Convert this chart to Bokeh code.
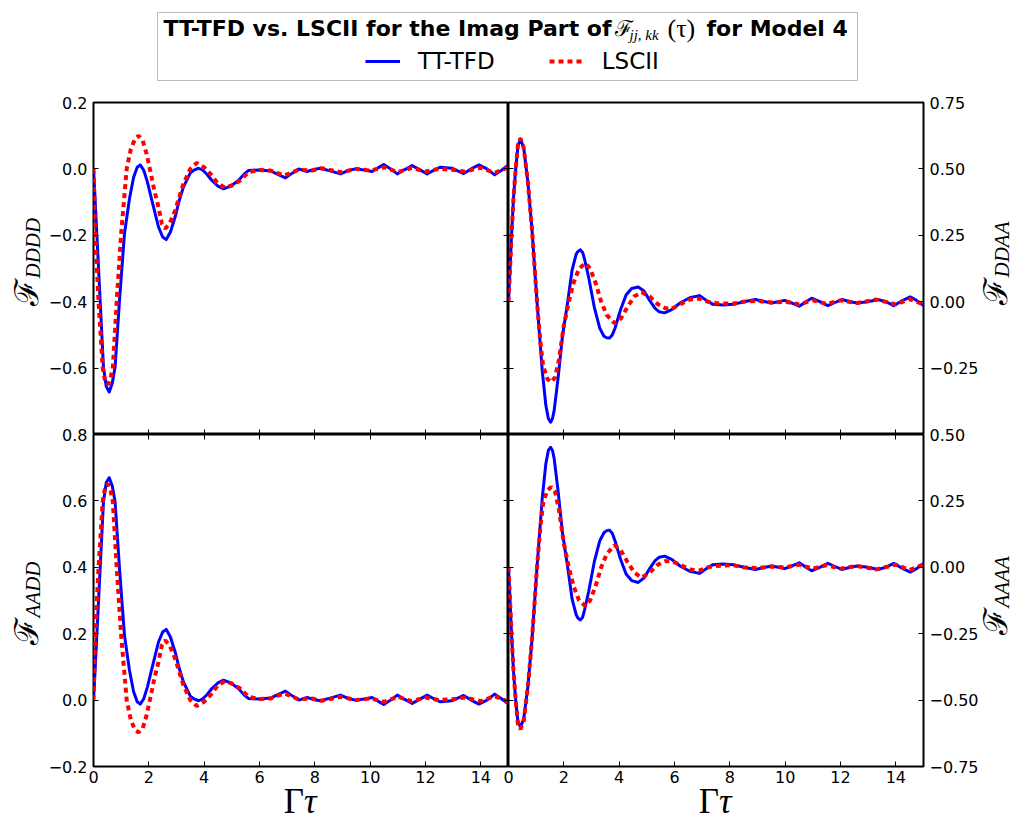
import math
from bokeh.plotting import figure
from bokeh.models import (Range1d, LinearAxis, FixedTicker, CustomJSTickFormatter,
                          Legend, LegendItem, BoxAnnotation, Spacer)
from bokeh.layouts import column, row
from bokeh.core.properties import value
from bokeh.embed import file_html
from bokeh.resources import INLINE

# ---------------- data ----------------
X_TICKS = [0, 2, 4, 6, 8, 10, 12, 14]
X_LABELS = ["0", "2", "4", "6", "8", "10", "12", "14"]

DDDD_RANGE = (-0.8, 0.2)
DDDD_TICKS = [0.2, 0.0, -0.2, -0.4, -0.6]
DDDD_LABELS = ["0.2", "0.0", "\u22120.2", "\u22120.4", "\u22120.6"]
AADD_RANGE = (-0.2, 0.8)
AADD_TICKS = [0.8, 0.6, 0.4, 0.2, 0.0, -0.2]
AADD_LABELS = ["0.8", "0.6", "0.4", "0.2", "0.0", "\u22120.2"]
DDAA_RANGE = (-0.5, 0.75)
DDAA_TICKS = [0.75, 0.5, 0.25, 0.0, -0.25]
DDAA_LABELS = ["0.75", "0.50", "0.25", "0.00", "\u22120.25"]
AAAA_RANGE = (-0.75, 0.5)
AAAA_TICKS = [0.5, 0.25, 0.0, -0.25, -0.5, -0.75]
AAAA_LABELS = ["0.50", "0.25", "0.00", "\u22120.25", "\u22120.50", "\u22120.75"]

# tau samples for the F_DDDD / F_AADD TT-TFD curves
TAU_A_TT = [0.0, 0.04, 0.12, 0.24, 0.36, 0.46, 0.57, 0.68, 0.78, 0.94,
            1.12, 1.3, 1.45, 1.58, 1.69, 1.82, 1.95, 2.11, 2.35, 2.5,
            2.63, 2.78, 2.95, 3.1, 3.25, 3.5, 3.65, 3.8, 3.95, 4.1,
            4.28, 4.5, 4.7, 4.95, 5.24, 5.45, 5.6, 6.0, 6.4, 6.7,
            6.94, 7.2, 7.42, 7.72, 7.95, 8.2, 8.55, 8.93, 9.2, 9.47,
            9.8, 10.07, 10.28, 10.49, 10.74, 10.98, 11.25, 11.52, 11.8, 12.06,
            12.3, 12.54, 12.95, 13.38, 13.65, 13.93, 14.22, 14.5, 14.75, 15.0]
DDDD_TT = [0.0, -0.06, -0.195, -0.396, -0.597, -0.655, -0.672, -0.645, -0.597, -0.396,
           -0.195, -0.09, -0.025, 0.005, 0.012, -0.005, -0.04, -0.095, -0.175, -0.205,
           -0.213, -0.19, -0.145, -0.095, -0.055, -0.012, -0.003, 0.002, -0.004, -0.016,
           -0.035, -0.052, -0.06, -0.052, -0.035, -0.015, -0.005, -0.003, -0.006, -0.018,
           -0.027, -0.012, 0.0, -0.008, -0.002, 0.002, -0.006, -0.015, -0.005, 0.0,
           -0.003, -0.008, 0.003, 0.013, 0.0, -0.015, -0.002, 0.01, -0.003, -0.015,
           -0.004, 0.005, 0.002, -0.014, 0.0, 0.012, 0.0, -0.018, -0.004, 0.012]
AADD_TT = [0.0, 0.06, 0.195, 0.396, 0.597, 0.655, 0.67, 0.645, 0.597, 0.396,
           0.195, 0.09, 0.025, -0.005, -0.012, 0.005, 0.04, 0.095, 0.175, 0.205,
           0.213, 0.19, 0.145, 0.095, 0.055, 0.012, 0.003, -0.002, 0.004, 0.016,
           0.035, 0.052, 0.06, 0.052, 0.035, 0.015, 0.005, 0.003, 0.006, 0.018,
           0.027, 0.012, 0.0, 0.008, 0.002, -0.002, 0.006, 0.015, 0.005, 0.0,
           0.003, 0.008, -0.003, -0.013, 0.0, 0.015, 0.002, -0.01, 0.003, 0.015,
           0.004, -0.005, -0.002, 0.014, 0.0, -0.012, 0.0, 0.018, 0.004, -0.012]

# tau samples for the F_DDDD / F_AADD LSCII curves
TAU_A_LSC = [0.0, 0.06, 0.18, 0.33, 0.42, 0.52, 0.62, 0.7, 0.84, 1.0,
             1.2, 1.35, 1.5, 1.63, 1.78, 1.92, 2.05, 2.2, 2.35, 2.47,
             2.59, 2.75, 2.95, 3.1, 3.25, 3.5, 3.73, 4.0, 4.28, 4.5,
             4.76, 5.0, 5.3, 5.6, 6.0, 6.4, 6.9, 7.4, 7.9, 8.25,
             8.95, 9.5, 10.0, 10.5, 11.0, 11.5, 12.0, 12.5, 13.0, 13.4,
             14.0, 14.5, 15.0]
DDDD_LSC = [0.0, -0.195, -0.396, -0.597, -0.64, -0.65, -0.63, -0.597, -0.396, -0.195,
            0.0, 0.06, 0.09, 0.1, 0.085, 0.045, -0.005, -0.065, -0.115, -0.165,
            -0.18, -0.165, -0.125, -0.085, -0.045, 0.0, 0.018, 0.005, -0.02, -0.045,
            -0.057, -0.05, -0.035, -0.01, -0.003, -0.005, -0.02, -0.003, -0.005, 0.002,
            -0.01, 0.0, -0.005, 0.005, -0.01, 0.003, -0.008, 0.0, -0.003, -0.008,
            0.003, -0.012, 0.005]
AADD_LSC = [0.0, 0.195, 0.396, 0.597, 0.64, 0.652, 0.63, 0.597, 0.396, 0.195,
            0.0, -0.06, -0.09, -0.097, -0.085, -0.045, 0.005, 0.065, 0.115, 0.165,
            0.18, 0.165, 0.125, 0.085, 0.045, 0.0, -0.018, -0.005, 0.02, 0.045,
            0.057, 0.05, 0.035, 0.01, 0.003, 0.005, 0.02, 0.003, 0.005, -0.002,
            0.01, 0.0, 0.005, -0.005, 0.01, -0.003, 0.008, 0.0, 0.003, 0.008,
            -0.003, 0.012, -0.005]

# tau samples for the F_DDAA / F_AAAA TT-TFD curves
TAU_B_TT = [0.0, 0.05, 0.11, 0.18, 0.26, 0.34, 0.43, 0.55, 0.7, 0.85,
            1.03, 1.22, 1.35, 1.44, 1.52, 1.59, 1.65, 1.8, 1.95, 2.14,
            2.3, 2.45, 2.52, 2.6, 2.68, 2.75, 2.9, 3.1, 3.3, 3.45,
            3.55, 3.65, 3.75, 3.85, 4.05, 4.25, 4.45, 4.69, 4.9, 5.1,
            5.3, 5.45, 5.64, 5.9, 6.2, 6.55, 6.9, 7.15, 7.39, 7.75,
            8.13, 8.5, 8.92, 9.2, 9.5, 9.75, 9.98, 10.25, 10.51, 10.75,
            10.96, 11.25, 11.54, 11.8, 12.05, 12.35, 12.6, 13.0, 13.34, 13.65,
            13.92, 14.22, 14.52, 14.75, 15.0]
DDAA_TT = [0.0, 0.11, 0.25, 0.39, 0.5, 0.585, 0.613, 0.58, 0.45, 0.27,
           0.0, -0.26, -0.39, -0.44, -0.454, -0.44, -0.41, -0.28, -0.13, 0.0,
           0.12, 0.18, 0.19, 0.195, 0.185, 0.16, 0.09, -0.02, -0.1, -0.13,
           -0.136, -0.137, -0.125, -0.1, -0.03, 0.025, 0.05, 0.055, 0.04, 0.005,
           -0.025, -0.038, -0.042, -0.03, -0.005, 0.015, 0.023, 0.005, -0.01, -0.012,
           -0.01, 0.0, 0.008, 0.002, -0.005, 0.0, 0.005, -0.005, -0.017, 0.0,
           0.013, 0.0, -0.015, -0.003, 0.008, 0.0, -0.005, 0.0, 0.008, 0.0,
           -0.015, 0.003, 0.018, 0.005, -0.015]
AAAA_TT = [0.0, -0.11, -0.25, -0.39, -0.5, -0.58, -0.602, -0.57, -0.45, -0.27,
           0.0, 0.26, 0.39, 0.44, 0.452, 0.44, 0.41, 0.28, 0.13, 0.0,
           -0.12, -0.18, -0.193, -0.198, -0.188, -0.16, -0.09, 0.02, 0.1, 0.13,
           0.138, 0.14, 0.128, 0.1, 0.03, -0.025, -0.05, -0.057, -0.04, -0.005,
           0.025, 0.038, 0.042, 0.03, 0.005, -0.015, -0.023, -0.005, 0.01, 0.012,
           0.01, 0.0, -0.008, -0.002, 0.005, 0.0, -0.005, 0.005, 0.017, 0.0,
           -0.013, 0.0, 0.015, 0.003, -0.008, 0.0, 0.005, 0.0, -0.008, 0.0,
           0.015, -0.003, -0.018, -0.005, 0.015]

# tau samples for the F_DDAA / F_AAAA LSCII curves
TAU_B_LSC = [0.0, 0.05, 0.11, 0.18, 0.26, 0.34, 0.43, 0.55, 0.7, 0.85,
             1.03, 1.15, 1.25, 1.4, 1.54, 1.68, 1.82, 2.0, 2.18, 2.35,
             2.55, 2.78, 2.95, 3.15, 3.35, 3.55, 3.83, 4.05, 4.3, 4.55,
             4.81, 5.1, 5.4, 5.65, 5.9, 6.2, 6.55, 6.9, 7.2, 7.5,
             8.1, 8.5, 9.0, 9.5, 10.0, 10.5, 11.0, 11.5, 12.0, 12.6,
             13.3, 14.0, 14.5, 15.0]
DDAA_LSC = [0.0, 0.11, 0.25, 0.39, 0.5, 0.59, 0.615, 0.58, 0.45, 0.27,
            0.0, -0.15, -0.24, -0.29, -0.303, -0.285, -0.22, -0.09, 0.0, 0.07,
            0.125, 0.145, 0.125, 0.07, 0.0, -0.05, -0.081, -0.065, -0.02, 0.02,
            0.036, 0.02, -0.01, -0.024, -0.027, -0.01, 0.008, 0.012, 0.0, -0.005,
            -0.008, 0.0, 0.003, -0.003, 0.0, -0.01, 0.005, -0.008, 0.005, -0.005,
            0.008, -0.01, 0.01, -0.01]
AAAA_LSC = [0.0, -0.11, -0.25, -0.39, -0.5, -0.59, -0.61, -0.58, -0.45, -0.27,
            0.0, 0.15, 0.24, 0.29, 0.302, 0.285, 0.22, 0.09, 0.0, -0.07,
            -0.125, -0.146, -0.125, -0.07, 0.0, 0.05, 0.083, 0.065, 0.02, -0.02,
            -0.039, -0.02, 0.01, 0.023, 0.023, 0.01, -0.008, -0.012, 0.0, 0.005,
            0.008, 0.0, -0.003, 0.003, 0.0, 0.01, -0.005, 0.008, -0.005, 0.005,
            -0.008, 0.01, -0.01, 0.01]

SERIES_NAMES = ["TT-TFD", "LSCII"]
TITLE_PARTS = ["TT-TFD vs. LSCII for the Imag Part of", "\u2131", "jj, kk", "(\u03c4)", "for Model 4"]
Y_NAMES = ["DDDD", "DDAA", "AADD", "AAAA"]
X_NAME = ["\u0393", "\u03c4"]

# ---------------- layout constants (page pixels, origin top-left) ----------------
FRAME_W, FRAME_H = 415, 332
LEFT_B, RIGHT_B, TOP_B, BOTTOM_B = 93, 93, 10, 55
OVL_L, OVL_T = 14, 12            # transparent overlap borders
HEAD_H = 92
TOTAL_W = LEFT_B + 2 * FRAME_W + RIGHT_B          # 1016
TOTAL_H = HEAD_H + TOP_B + 2 * FRAME_H + BOTTOM_B  # 821
TICK_FONT = "16px"
FONT = "DejaVu Sans"
SERIF = "Liberation Serif"
BLUE, RED = "#0000ff", "#ff0000"

LABEL_CODE = """
let best = 0; let d = Infinity;
for (let i = 0; i < tvals.length; i++) {
  const e = Math.abs(tvals[i] - tick);
  if (e < d) { d = e; best = i; }
}
return tlabels[best];
"""


def add_axis(p, side, ticks, labels=None):
    ax = LinearAxis(ticker=FixedTicker(ticks=ticks, minor_ticks=[]),
                    axis_line_color=None, major_tick_in=5, major_tick_out=0,
                    minor_tick_in=0, minor_tick_out=0,
                    major_tick_line_color="black", major_tick_line_width=1)
    if labels is not None:
        ax.formatter = CustomJSTickFormatter(args=dict(tvals=ticks, tlabels=labels), code=LABEL_CODE)
        ax.major_label_text_font = FONT
        ax.major_label_text_font_size = TICK_FONT
        ax.major_label_text_color = "black"
        ax.major_label_standoff = 6 if side in ("left", "right") else 4
    else:
        ax.formatter = CustomJSTickFormatter(code="return '';")
        ax.major_label_text_font_size = "0px"
        ax.major_label_standoff = 0
    p.add_layout(ax, side)
    return ax


def make_panel(y_range, left_b, right_b, top_b, bottom_b):
    p = figure(frame_width=FRAME_W, frame_height=FRAME_H,
               x_range=Range1d(0, 15), y_range=Range1d(*y_range),
               output_backend="svg", toolbar_location=None,
               x_axis_location=None, y_axis_location=None,
               min_border_left=left_b, min_border_right=right_b,
               min_border_top=top_b, min_border_bottom=bottom_b)
    p.grid.grid_line_color = None
    p.outline_line_color = "black"
    p.outline_line_width = 2
    p.background_fill_color = "white"
    p.border_fill_color = None
    return p


def draw_series(p, tau_tt, tt, tau_lsc, lsc):
    p.line(tau_tt, tt, line_color=BLUE, line_width=3, line_join="round")
    p.line(tau_lsc, lsc, line_color=RED, line_width=4, line_dash="5 4")


# top-left: F_DDDD
tl = make_panel(DDDD_RANGE, LEFT_B, 0, TOP_B, 0)
add_axis(tl, "left", DDDD_TICKS, DDDD_LABELS)
add_axis(tl, "right", DDDD_TICKS)
add_axis(tl, "below", X_TICKS)
draw_series(tl, TAU_A_TT, DDDD_TT, TAU_A_LSC, DDDD_LSC)

# top-right: F_DDAA
tr = make_panel(DDAA_RANGE, OVL_L, RIGHT_B, TOP_B, 0)
add_axis(tr, "right", DDAA_TICKS, DDAA_LABELS)
add_axis(tr, "left", DDAA_TICKS)
add_axis(tr, "below", X_TICKS)
draw_series(tr, TAU_B_TT, DDAA_TT, TAU_B_LSC, DDAA_LSC)
tr.margin = (0, 0, 0, -OVL_L)

# bottom-left: F_AADD
bl = make_panel(AADD_RANGE, LEFT_B, 0, OVL_T, BOTTOM_B)
add_axis(bl, "left", AADD_TICKS, AADD_LABELS)
add_axis(bl, "right", AADD_TICKS)
add_axis(bl, "below", X_TICKS, X_LABELS)
add_axis(bl, "above", X_TICKS)
draw_series(bl, TAU_A_TT, AADD_TT, TAU_A_LSC, AADD_LSC)

# bottom-right: F_AAAA
br = make_panel(AAAA_RANGE, OVL_L, RIGHT_B, OVL_T, BOTTOM_B)
add_axis(br, "right", AAAA_TICKS, AAAA_LABELS)
add_axis(br, "left", AAAA_TICKS)
add_axis(br, "below", X_TICKS, X_LABELS)
add_axis(br, "above", X_TICKS)
draw_series(br, TAU_B_TT, AAAA_TT, TAU_B_LSC, AAAA_LSC)
br.margin = (0, 0, 0, -OVL_L)

# ---------------- transparent overlay: title box, legend, axis labels ----------------
ov = figure(width=TOTAL_W, height=TOTAL_H, x_range=Range1d(0, TOTAL_W), y_range=Range1d(0, TOTAL_H),
            output_backend="svg", toolbar_location=None,
            x_axis_location=None, y_axis_location=None, min_border=0)
ov.grid.grid_line_color = None
ov.outline_line_color = None
ov.background_fill_color = None
ov.border_fill_color = None
ov.margin = (-TOTAL_H, 0, 0, 0)


def py(page_y):
    return TOTAL_H - page_y


ov.add_layout(BoxAnnotation(left=157, right=857, bottom=py(80), top=py(12),
                            fill_color=None, fill_alpha=0,
                            line_color="#222222", line_width=1))

# title pieces (positions are visual centres)
ov.text(x=[611], y=[py(28)], text=[TITLE_PARTS[0]], text_align="right",
        text_baseline="middle", text_font=value(FONT), text_font_style="bold",
        text_font_size="22px", text_color="black")
ov.text(x=[614], y=[py(28)], text=[TITLE_PARTS[1]], text_align="left",
        text_baseline="middle", text_font=value("DejaVu Serif"),
        text_font_size="22px", text_color="black")
ov.text(x=[629], y=[py(34)], text=[TITLE_PARTS[2]], text_align="left",
        text_baseline="middle", text_font=value(SERIF), text_font_style="italic",
        text_font_size="15px", text_color="black")
ov.text(x=[667], y=[py(28)], text=[TITLE_PARTS[3]], text_align="left",
        text_baseline="middle", text_font=value(SERIF),
        text_font_size="26px", text_color="black")
ov.text(x=[706], y=[py(28)], text=[TITLE_PARTS[4]], text_align="left",
        text_baseline="middle", text_font=value(FONT), text_font_style="bold",
        text_font_size="22px", text_color="black")

# legend (its renderers are the series themselves, drawn on a range that is out of view)
ov.extra_x_ranges = {"hidden": Range1d(1000, 1001)}
r_tt = ov.line(TAU_A_TT, DDDD_TT, x_range_name="hidden", line_color=BLUE, line_width=3)
r_lsc = ov.line(TAU_A_LSC, DDDD_LSC, x_range_name="hidden", line_color=RED,
                line_width=4, line_dash="5 4")
legend = Legend(items=[LegendItem(label=SERIES_NAMES[0], renderers=[r_tt]),
                       LegendItem(label=SERIES_NAMES[1], renderers=[r_lsc])],
                orientation="horizontal", location=(365, py(62) - 12),
                border_line_color=None, background_fill_alpha=0,
                label_text_font=FONT, label_text_font_size="23px", label_text_color="black",
                glyph_width=35, glyph_height=24, label_height=24,
                label_standoff=18, spacing=54, padding=0, margin=0)
ov.add_layout(legend)

# y axis labels: script F with italic subscript, reading upwards (x = visual centre line)
ylab_f_x = [26, 995, 26, 995]
ylab_s_x = [32, 1001, 32, 1001]
ylab_y = [py(278), py(277), py(617), py(607)]
ov.text(x=ylab_f_x, y=ylab_y, text=["\u2131"] * 4, angle=math.pi / 2,
        text_align="right", text_baseline="middle", text_font=value("DejaVu Serif"),
        text_font_size="33px", text_color="black")
ov.text(x=ylab_s_x, y=ylab_y, text=[Y_NAMES[0], Y_NAMES[1], Y_NAMES[2], Y_NAMES[3]],
        angle=math.pi / 2, text_align="left", text_baseline="middle",
        text_font=value(SERIF), text_font_style="italic",
        text_font_size="21px", text_color="black")

# x axis labels: Gamma tau under each bottom panel
xc = [LEFT_B + FRAME_W / 2 + 3, LEFT_B + FRAME_W * 1.5 + 3]
ov.text(x=xc, y=[py(801)] * 2, text=[X_NAME[0]] * 2, text_align="right",
        text_baseline="middle", text_font=value(SERIF), text_font_size="35px",
        text_color="black")
ov.text(x=xc, y=[py(801)] * 2, text=[X_NAME[1]] * 2, text_align="left",
        text_baseline="middle", text_font=value(SERIF), text_font_style="italic",
        text_font_size="35px", text_color="black")

row1 = row(tl, tr)
row2 = row(bl, br)
row2.margin = (-OVL_T, 0, 0, 0)
layout = column(Spacer(width=TOTAL_W, height=HEAD_H), row1, row2, ov)

with open("out.html", "w") as f:
    f.write(file_html(layout, INLINE))
